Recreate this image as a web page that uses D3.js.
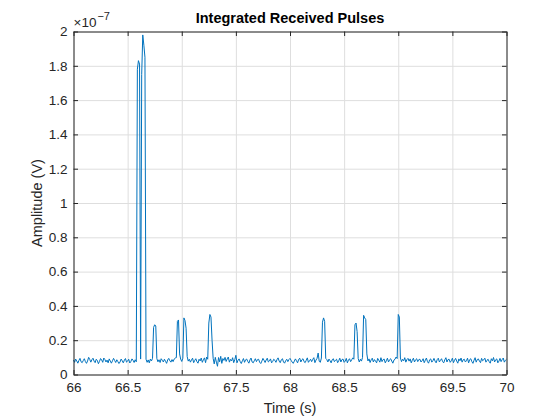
<!DOCTYPE html>
<html>
<head>
<meta charset="utf-8">
<script src="https://cdn.jsdelivr.net/npm/d3@7"></script>
<style>
  body { margin: 0; background: #fff; }
  svg { font-family: "Liberation Sans", Arial, sans-serif; }
  .grid line { stroke: #dedede; stroke-width: 1; }
  .grid .domain { display: none; }
  .axis text { fill: #262626; font-size: 13.5px; }
  .axis line, .axis path { stroke: #262626; }
</style>
</head>
<body>
<svg id="chart" width="560" height="420"></svg>
<script>
// Integrated received pulses, sampled every 10 ms from t = 66 s
const startTime = 66
const sampleStep = 0.01
// amplitude in nV (axis shows x 10^-7 V)
const amplitude = [
  8.4, 7.1, 9.0, 7.9, 6.6, 8.2, 9.4, 7.4, 6.9, 8.1, 9.2, 7.5, 6.5, 7.9, 10.0, 8.8, 7.2, 8.6, 9.5, 7.8,
  6.9, 8.9, 8.2, 6.3, 7.6, 9.3, 8.5, 7.1, 9.6, 8.7, 7.3, 8.4, 6.8, 9.1, 7.8, 6.6, 8.0, 9.4, 8.2, 7.0,
  8.6, 7.5, 6.4, 7.3, 9.0, 8.0, 6.8, 8.4, 9.3, 7.2, 7.8, 8.9, 6.7, 7.6, 9.1, 8.3, 7.0, 8.6, 7.4, 178,
  183, 181, 9.0, 175, 198, 192, 185, 8.9, 7.1, 8.5, 6.8, 9.0, 7.9, 9.4, 27.5, 29.0, 28.3, 9.3, 7.4, 8.6,
  7.0, 9.2, 8.3, 7.3, 8.9, 7.7, 6.5, 8.5, 9.4, 8.0, 7.2, 8.7, 7.5, 9.0, 9.6, 9.8, 31.0, 31.8, 12.0, 9.0,
  7.6, 9.5, 33.0, 31.5, 27.0, 10.5, 7.8, 8.9, 7.2, 8.5, 9.5, 6.9, 8.2, 9.2, 7.5, 6.6, 8.9, 7.9, 9.6, 7.1,
  8.6, 9.7, 6.9, 10.2, 8.9, 30.0, 35.0, 33.5, 20.0, 9.4, 6.2, 10.0, 7.2, 4.8, 9.9, 7.4, 10.6, 6.5, 9.3, 8.2,
  10.0, 7.6, 9.1, 10.2, 7.2, 8.8, 7.9, 9.8, 6.9, 8.7, 11.2, 6.8, 8.3, 9.1, 7.5, 6.4, 8.0, 9.3, 7.1, 8.6,
  9.0, 7.6, 6.6, 8.5, 9.6, 7.3, 6.8, 8.0, 9.2, 7.5, 8.7, 8.9, 7.1, 6.4, 7.8, 9.4, 8.3, 7.0, 8.5, 9.5,
  7.3, 7.9, 9.1, 6.8, 7.6, 8.9, 8.3, 7.1, 8.7, 9.7, 7.8, 6.9, 8.6, 9.2, 7.3, 6.6, 8.0, 8.9, 7.5, 8.7,
  9.4, 8.3, 7.2, 6.5, 7.8, 9.1, 8.0, 6.8, 8.8, 9.5, 7.3, 8.6, 9.2, 7.5, 6.9, 8.3, 9.7, 7.1, 8.0, 8.9,
  7.5, 8.8, 9.8, 6.9, 8.4, 9.4, 12.5, 7.7, 7.1, 9.6, 30.5, 33.0, 31.0, 9.4, 8.7, 7.3, 9.0, 8.0, 6.8, 8.6,
  9.2, 7.5, 8.3, 8.9, 6.9, 8.0, 9.5, 7.3, 8.7, 9.0, 7.1, 7.8, 9.4, 6.8, 8.4, 9.2, 7.5, 8.6, 9.7, 8.9,
  29.0, 30.0, 25.0, 9.3, 7.3, 8.9, 7.8, 9.9, 34.5, 33.0, 32.0, 12.0, 7.9, 9.1, 7.0, 8.6, 9.5, 7.3, 8.7, 7.8,
  6.8, 9.4, 8.3, 7.2, 9.8, 7.5, 8.7, 9.0, 6.8, 8.0, 9.5, 7.3, 8.6, 9.2, 7.8, 6.6, 8.4, 8.9, 10.2, 9.3,
  35.0, 33.5, 9.6, 7.5, 8.9, 8.0, 9.8, 7.2, 8.7, 9.4, 7.8, 9.1, 6.8, 8.3, 9.5, 7.3, 8.6, 9.2, 7.5, 8.7,
  8.9, 7.3, 8.0, 9.2, 6.9, 8.3, 9.6, 7.5, 6.6, 8.6, 9.1, 7.2, 8.0, 9.4, 7.8, 6.8, 8.7, 9.5, 7.3, 8.3,
  9.2, 7.5, 6.8, 8.6, 9.8, 7.3, 8.7, 8.9, 7.1, 8.0, 9.5, 6.9, 8.3, 9.4, 7.8, 6.6, 9.1, 8.0, 9.6, 7.2,
  8.6, 8.9, 7.3, 8.0, 9.5, 6.8, 8.7, 9.2, 7.5, 6.5, 8.3, 9.8, 7.2, 8.7, 9.1, 7.8, 6.9, 9.4, 8.0, 8.6,
  9.5, 7.2, 8.3, 8.9, 7.5, 6.6, 9.2, 8.0, 9.9, 7.3, 8.6, 9.1, 6.8, 7.8, 9.4, 7.5, 8.7, 9.6, 7.2, 8.3,
  8.9
]
const xTicks = [66, 66.5, 67, 67.5, 68, 68.5, 69, 69.5, 70]
const yTicks = [0, 20, 40, 60, 80, 100, 120, 140, 160, 180, 200]
const yTickLabels = ["0", "0.2", "0.4", "0.6", "0.8", "1", "1.2", "1.4", "1.6", "1.8", "2"]

const plotLeft = 73.5, plotRight = 506.5, plotTop = 31.5, plotBottom = 374.5

var svg = d3.select("#chart")

var x = d3.scaleLinear().domain([66, 70]).range([plotLeft, plotRight])
var y = d3.scaleLinear().domain([0, 200]).range([plotBottom, plotTop])

// grid
svg.append("g")
  .attr("class", "grid")
  .attr("transform", "translate(0," + plotBottom + ")")
  .call(d3.axisBottom(x).tickValues(xTicks).tickSize(-(plotBottom - plotTop)).tickFormat(""))
svg.append("g")
  .attr("class", "grid")
  .attr("transform", "translate(" + plotLeft + ",0)")
  .call(d3.axisLeft(y).tickValues(yTicks).tickSize(-(plotRight - plotLeft)).tickFormat(""))

// the signal
var points = amplitude.map((v, i) => ({ t: startTime + i * sampleStep, v: v }))
svg.append("path")
  .datum(points)
  .attr("fill", "none")
  .attr("stroke", "#0072bd")
  .attr("stroke-width", 1)
  .attr("stroke-linejoin", "round")
  .attr("d", d3.line().x(d => x(d.t)).y(d => y(d.v)))

// axes with ticks pointing inside (box on all sides)
svg.append("g")
  .attr("class", "axis")
  .attr("transform", "translate(0," + plotBottom + ")")
  .call(d3.axisBottom(x).tickValues(xTicks).tickSizeInner(-4.5).tickSizeOuter(0).tickPadding(8)
    .tickFormat(d => String(d)))
svg.append("g")
  .attr("class", "axis")
  .attr("transform", "translate(" + plotLeft + ",0)")
  .call(d3.axisLeft(y).tickValues(yTicks).tickSizeInner(-4.5).tickSizeOuter(0).tickPadding(6)
    .tickFormat((d, i) => yTickLabels[i]))
svg.append("g")
  .attr("class", "axis")
  .attr("transform", "translate(0," + plotTop + ")")
  .call(d3.axisTop(x).tickValues(xTicks).tickSizeInner(-4.5).tickSizeOuter(0).tickFormat(""))
svg.append("g")
  .attr("class", "axis")
  .attr("transform", "translate(" + plotRight + ",0)")
  .call(d3.axisRight(y).tickValues(yTicks).tickSizeInner(-4.5).tickSizeOuter(0).tickFormat(""))

// exponent label
var expo = svg.append("text")
  .attr("x", plotLeft)
  .attr("y", 27)
  .attr("fill", "#262626")
  .style("font-size", "13.5px")
expo.append("tspan").text("\u00d710")
expo.append("tspan").attr("dy", -7).attr("dx", 1).style("font-size", "11px").text("\u22127")

// title
svg.append("text")
  .attr("x", (plotLeft + plotRight) / 2)
  .attr("y", 23)
  .attr("text-anchor", "middle")
  .attr("fill", "#000")
  .style("font-size", "14.5px")
  .style("font-weight", "bold")
  .text("Integrated Received Pulses")

// axis labels
svg.append("text")
  .attr("x", (plotLeft + plotRight) / 2)
  .attr("y", 413)
  .attr("text-anchor", "middle")
  .attr("fill", "#262626")
  .style("font-size", "14.5px")
  .text("Time (s)")

svg.append("text")
  .attr("transform", "translate(42," + (plotTop + plotBottom) / 2 + ") rotate(-90)")
  .attr("text-anchor", "middle")
  .attr("fill", "#262626")
  .style("font-size", "14.5px")
  .text("Amplitude (V)")
</script>
</body>
</html>
